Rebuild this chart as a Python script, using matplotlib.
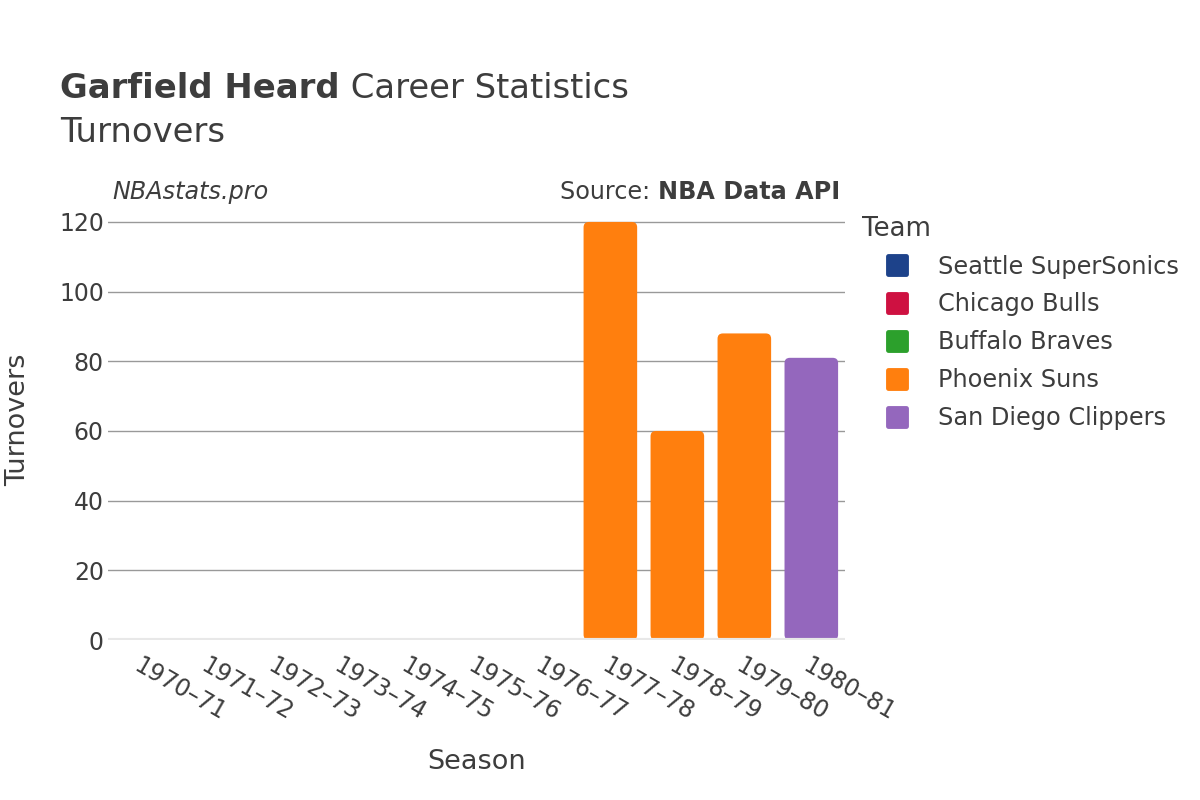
import matplotlib
matplotlib.use("Agg")
import matplotlib.pyplot as plt
from matplotlib.patches import FancyBboxPatch
from matplotlib.lines import Line2D
from matplotlib.markers import MarkerStyle
import numpy as np

# data
seasons = ["1970–71", "1971–72", "1972–73", "1973–74", "1974–75", "1975–76",
           "1976–77", "1977–78", "1978–79", "1979–80", "1980–81"]
teams = ["Seattle SuperSonics", "Chicago Bulls", "Buffalo Braves", "Phoenix Suns", "San Diego Clippers"]
colors = ["#1d428a", "#ce1141", "#2ca02c", "#ff7f0e", "#9467bd"]
seattle = [0, 0, 0, 0, 0, 0, 0, 0, 0, 0, 0]
chicago = [0, 0, 0, 0, 0, 0, 0, 0, 0, 0, 0]
buffalo = [0, 0, 0, 0, 0, 0, 0, 0, 0, 0, 0]
phoenix = [0, 0, 0, 0, 0, 0, 0, 120, 60, 88, 0]
san_diego = [0, 0, 0, 0, 0, 0, 0, 0, 0, 0, 81]
series = [seattle, chicago, buffalo, phoenix, san_diego]

txt = "#3d3d3d"
plt.rcParams['font.family'] = ['DejaVu Sans']

fig = plt.figure(figsize=(12, 8), dpi=100)
ax = fig.add_axes([0.09, 0.2, 0.614, 0.55])

x = np.arange(len(seasons))
bottom = np.zeros(len(seasons))
for vals, col in zip(series, colors):
    bars = ax.bar(x, vals, width=0.8, bottom=bottom, color=col, zorder=3)
    for r in bars:
        r.set_visible(False)
        if r.get_height() <= 0:
            continue
        ax.add_patch(FancyBboxPatch((r.get_x(), r.get_y()), r.get_width(), r.get_height(),
                                    boxstyle="round,pad=0,rounding_size=0.08",
                                    mutation_aspect=19.2, facecolor=col, edgecolor="none", zorder=3))
    bottom += np.array(vals)

ax.set_xlim(-0.5, len(seasons) - 0.5)
ax.set_ylim(0, 126.3)
ax.set_yticks([0, 20, 40, 60, 80, 100, 120])
ax.grid(axis='y', color='#999999', linewidth=1, zorder=0)
ax.axhline(0, color='#e8e8e8', linewidth=3, zorder=4)
for s in ax.spines.values():
    s.set_visible(False)
ax.tick_params(axis='both', length=0, labelsize=17, labelcolor=txt)
ax.tick_params(axis='y', pad=3)
ax.set_xticks(x)
ax.set_xticklabels(seasons, rotation=-30, ha='left', va='top', rotation_mode='anchor')
ax.tick_params(axis='x', pad=10)
ax.set_xlabel("Season", fontsize=19.5, color=txt)
ax.set_ylabel("Turnovers", fontsize=19.5, color=txt)
ax.xaxis.set_label_coords(0.5, -0.247)
ax.yaxis.set_label_coords(-0.105, 0.5)

# titles
t1 = fig.text(0.05, 0.889, "Garfield Heard", fontsize=24.4, fontweight='bold', color=txt, va='center')
fig.canvas.draw()
bb = t1.get_window_extent()
x1 = fig.transFigure.inverted().transform((bb.x1, bb.y0))[0]
fig.text(x1, 0.889, " Career Statistics", fontsize=24.4, color=txt, va='center')
fig.text(0.05, 0.835, "Turnovers", fontsize=24.4, color=txt, va='center')
fig.text(0.094, 0.76, "NBAstats.pro", fontsize=17.2, style='italic', color=txt, va='center')
s2 = fig.text(0.7, 0.76, "NBA Data API", fontsize=17.2, fontweight='bold', color=txt, va='center', ha='right')
fig.canvas.draw()
bb = s2.get_window_extent()
x2 = fig.transFigure.inverted().transform((bb.x0, bb.y0))[0]
fig.text(x2, 0.76, "Source: ", fontsize=17.2, color=txt, va='center', ha='right')

# legend
handles = [Line2D([], [], linestyle='none', marker=MarkerStyle('s', joinstyle='round'),
                  markersize=13, markerfacecolor=c, markeredgecolor=c, markeredgewidth=3.5)
           for c in colors]
leg = fig.legend(handles, teams, loc='upper left', bbox_to_anchor=(0.7085, 0.745), frameon=False,
                 title="Team", fontsize=17.3, title_fontsize=18.7, labelspacing=0.58,
                 handlelength=2.9, handletextpad=0.25, borderpad=0, alignment='left', labelcolor=txt)
leg.get_title().set_color(txt)
leg._legend_box.sep = 9

fig.savefig("out.png", dpi=100)
